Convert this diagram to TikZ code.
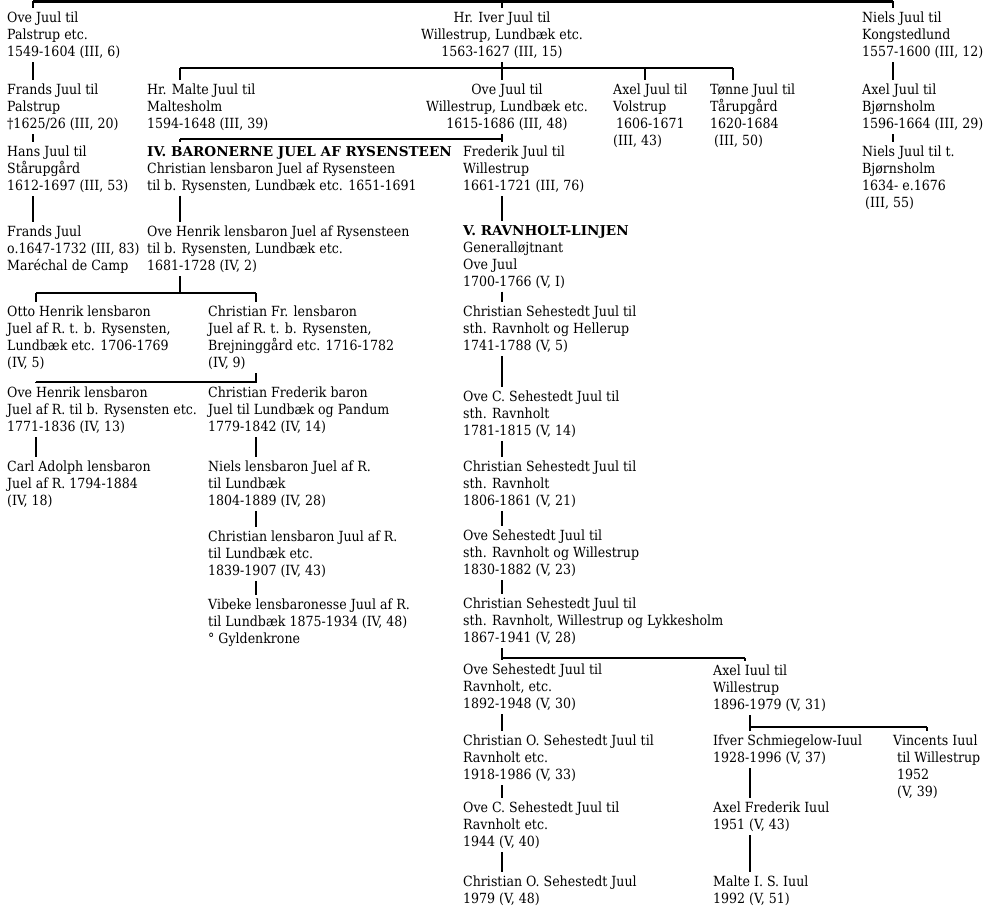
\documentclass[tikz,border=0pt]{standalone}
\usepackage{fontspec}
\setmainfont{DejaVu Serif Condensed}
\newfontfamily\headfont{DejaVu Serif}[Scale=0.97]
\tikzset{
  person/.style={anchor=north west, yshift=11.9bp, align=left, inner sep=0pt,
    font=\fontsize{14bp}{17bp}\selectfont, execute at begin node=\strut},
  famline/.style={line width=2.4bp},
  down/.style={famline, shorten >=4bp},
}
\newcommand{\linehead}[1]{{\headfont\bfseries #1}}

\begin{document}
\begin{tikzpicture}[x=1bp,y=-1bp]
\useasboundingbox (0,0) rectangle (989,908);
% columns of the lines
\coordinate (xa) at (33,0);
\coordinate (xg) at (36,0);
\coordinate (xb) at (180,0);
\coordinate (xf) at (256,0);
\coordinate (xc) at (502,0);
\coordinate (xd) at (645,0);
\coordinate (xe) at (733,0);
\coordinate (xh) at (745,0);
\coordinate (xi) at (750,0);
\coordinate (xn) at (893,0);
\coordinate (xj) at (927,0);
% heights of the bars
\coordinate (top) at (0,1.5);
\coordinate (bar2) at (0,68);
\coordinate (bar3) at (0,139);
\coordinate (bar5) at (0,293);
\coordinate (bar6) at (0,382);
\coordinate (bar10) at (0,658);
\coordinate (bar11) at (0,727);

% first generation
\node[person] (ovepal) at (7,24) {Ove Juul til\\Palstrup etc.\\1549-1604 (III, 6)};
\node[person, anchor=north, align=center] (iver) at (502,24) {Hr. Iver Juul til\\Willestrup, Lundbæk etc.\\1563-1627 (III, 15)};
\node[person] (nielskong) at (862,24) {Niels Juul til\\Kongstedlund\\1557-1600 (III, 12)};

\node[person] (frands) at (7,96) {Frands Juul til\\Palstrup\\†1625/26 (III, 20)};
\node[person] (malte) at (147,96) {Hr. Malte Juul til\\Maltesholm\\1594-1648 (III, 39)};
\node[person, anchor=north, align=center] (ovewil) at (507,96) {Ove Juul til\\Willestrup, Lundbæk etc.\\1615-1686 (III, 48)};
\node[person] (axelvol) at (613,96) {Axel Juul til\\Volstrup\\\hspace{3bp}1606-1671\\(III, 43)};
\node[person] (tonne) at (710,96) {Tønne Juul til\\Tårupgård\\1620-1684\\\hspace{4bp}(III, 50)};
\node[person] (axelbj) at (862,96) {Axel Juul til\\Bjørnsholm\\1596-1664 (III, 29)};

\node[person] (hans) at (7,158) {Hans Juul til\\Stårupgård\\1612-1697 (III, 53)};
\node[person] (baron) at (147,158) {\linehead{IV. BARONERNE JUEL AF RYSENSTEEN}\\Christian lensbaron Juel af Rysensteen\\til b. Rysensten, Lundbæk etc. 1651-1691};
\node[person] (frederik) at (463,158) {Frederik Juul til\\Willestrup\\1661-1721 (III, 76)};
\node[person] (nielsbj) at (862,158) {Niels Juul til t.\\Bjørnsholm\\1634- e.1676\\\hspace{3bp}(III, 55)};

\node[person] (frandsj) at (7,238) {Frands Juul\\o.1647-1732 (III, 83)\\Maréchal de Camp};
\node[person] (ovehenrik) at (147,238) {Ove Henrik lensbaron Juel af Rysensteen\\til b. Rysensten, Lundbæk etc.\\1681-1728 (IV, 2)};
\node[person] (ravnholt) at (463,237) {\linehead{V. RAVNHOLT-LINJEN}\\Generalløjtnant\\Ove Juul\\1700-1766 (V, I)};

% barons
\node[person] (otto) at (7,318) {Otto Henrik lensbaron\\Juel af R. t. b. Rysensten,\\Lundbæk etc. 1706-1769\\(IV, 5)};
\node[person] (chrfr) at (208,318) {Christian Fr. lensbaron\\Juel af R. t. b. Rysensten,\\Brejninggård etc. 1716-1782\\(IV, 9)};
\node[person] (ovehenrikb) at (7,399) {Ove Henrik lensbaron\\Juel af R. til b. Rysensten etc.\\1771-1836 (IV, 13)};
\node[person] (chrfrederik) at (208,399) {Christian Frederik baron\\Juel til Lundbæk og Pandum\\1779-1842 (IV, 14)};
\node[person] (carl) at (7,473) {Carl Adolph lensbaron\\Juel af R. 1794-1884\\(IV, 18)};
\node[person] (nielslens) at (208,473) {Niels lensbaron Juel af R.\\til Lundbæk\\1804-1889 (IV, 28)};
\node[person] (chrlens) at (208,543) {Christian lensbaron Juul af R.\\til Lundbæk etc.\\1839-1907 (IV, 43)};
\node[person] (vibeke) at (208,611) {Vibeke lensbaronesse Juul af R.\\til Lundbæk 1875-1934 (IV, 48)\\° Gyldenkrone};

% Ravnholt
\node[person] (chrseha) at (463,318) {Christian Sehestedt Juul til\\sth. Ravnholt og Hellerup\\1741-1788 (V, 5)};
\node[person] (ovesehb) at (463,403) {Ove C. Sehestedt Juul til\\sth. Ravnholt\\1781-1815 (V, 14)};
\node[person] (chrsehc) at (463,473) {Christian Sehestedt Juul til\\sth. Ravnholt\\1806-1861 (V, 21)};
\node[person] (ovesehd) at (463,542) {Ove Sehestedt Juul til\\sth. Ravnholt og Willestrup\\1830-1882 (V, 23)};
\node[person] (chrsehe) at (463,610) {Christian Sehestedt Juul til\\sth. Ravnholt, Willestrup og Lykkesholm\\1867-1941 (V, 28)};
\node[person] (ovesehf) at (463,676) {Ove Sehestedt Juul til\\Ravnholt, etc.\\1892-1948 (V, 30)};
\node[person] (chrog) at (463,747) {Christian O. Sehestedt Juul til\\Ravnholt etc.\\1918-1986 (V, 33)};
\node[person] (ovech) at (463,814) {Ove C. Sehestedt Juul til\\Ravnholt etc.\\1944 (V, 40)};
\node[person] (chroi) at (463,888) {Christian O. Sehestedt Juul\\1979 (V, 48)};

\node[person] (axeliuul) at (713,677) {Axel Iuul til\\Willestrup\\1896-1979 (V, 31)};
\node[person] (ifver) at (713,747) {Ifver Schmiegelow-Iuul\\1928-1996 (V, 37)};
\node[person] (vincents) at (893,747) {Vincents Iuul\\\hspace{4bp}til Willestrup\\\hspace{4bp}1952\\\hspace{4bp}(V, 39)};
\node[person] (axelfr) at (713,814) {Axel Frederik Iuul\\1951 (V, 43)};
\node[person] (maltei) at (713,888) {Malte I. S. Iuul\\1992 (V, 51)};

% top bar
\draw[down] (xa |- top) -- (ovepal.north -| xa);
\draw[down] (xc |- top) -- (iver.north -| xc);
\draw[down] (xn |- top) -- (nielskong.north -| xn);
\draw[famline] (xa |- top) -- (xn |- top);

% Hr. Iver's children
\draw[down] (iver.south -| xc) -- (ovewil.north -| xc);
\draw[famline] (xb |- bar2) -- (xe |- bar2);
\draw[down] (xb |- bar2) -- (malte.north -| xb);
\draw[down] (xd |- bar2) -- (axelvol.north -| xd);
\draw[down] (xe |- bar2) -- (tonne.north -| xe);

% Ove Juul's children
\draw[down] (ovewil.south -| xc) -- (frederik.north -| xc);
\draw[famline] (xb |- bar3) -- (xc |- bar3);
\draw[down] (xb |- bar3) -- (baron.north -| xb);

% Palstrup line
\draw[down] (ovepal.south -| xa) -- (frands.north -| xa);
\draw[down] (frands.south -| xa) -- (hans.north -| xa);
\draw[down] (hans.south -| xa) -- (frandsj.north -| xa);

% Bjørnsholm line
\draw[down] (nielskong.south -| xn) -- (axelbj.north -| xn);
\draw[down] (axelbj.south -| xn) -- (nielsbj.north -| xn);

% barons
\draw[down] (baron.south -| xb) -- (ovehenrik.north -| xb);
\draw[famline] (ovehenrik.south -| xb) -- (xb |- bar5);
\draw[famline] (xg |- bar5) -- (xf |- bar5);
\draw[down] (xg |- bar5) -- (otto.north -| xg);
\draw[down] (xf |- bar5) -- (chrfr.north -| xf);
\draw[down] (chrfr.south -| xf) -- (chrfrederik.north -| xf);
\draw[famline] (xg |- bar6) -- (xf |- bar6);
\draw[down] (xg |- bar6) -- (ovehenrikb.north -| xg);
\draw[down] (ovehenrikb.south -| xg) -- (carl.north -| xg);
\draw[down] (chrfrederik.south -| xf) -- (nielslens.north -| xf);
\draw[down] (nielslens.south -| xf) -- (chrlens.north -| xf);
\draw[down] (chrlens.south -| xf) -- (vibeke.north -| xf);

% Ravnholt line
\draw[down] (frederik.south -| xc) -- (ravnholt.north -| xc);
\draw[down] (ravnholt.south -| xc) -- (chrseha.north -| xc);
\draw[down] (chrseha.south -| xc) -- (ovesehb.north -| xc);
\draw[down] (ovesehb.south -| xc) -- (chrsehc.north -| xc);
\draw[down] (chrsehc.south -| xc) -- (ovesehd.north -| xc);
\draw[down] (ovesehd.south -| xc) -- (chrsehe.north -| xc);
\draw[down] (chrsehe.south -| xc) -- (ovesehf.north -| xc);
\draw[famline] (xc |- bar10) -- (xh |- bar10);
\draw[down] (xh |- bar10) -- (axeliuul.north -| xh);
\draw[down] (ovesehf.south -| xc) -- (chrog.north -| xc);
\draw[down] (chrog.south -| xc) -- (ovech.north -| xc);
\draw[down] (ovech.south -| xc) -- (chroi.north -| xc);

% Willestrup line
\draw[down] (axeliuul.south -| xi) -- (ifver.north -| xi);
\draw[famline] (xi |- bar11) -- (xj |- bar11);
\draw[down] (xj |- bar11) -- (vincents.north -| xj);
\draw[down] (ifver.south -| xi) -- (axelfr.north -| xi);
\draw[down] (axelfr.south -| xi) -- (maltei.north -| xi);
\end{tikzpicture}
\end{document}
